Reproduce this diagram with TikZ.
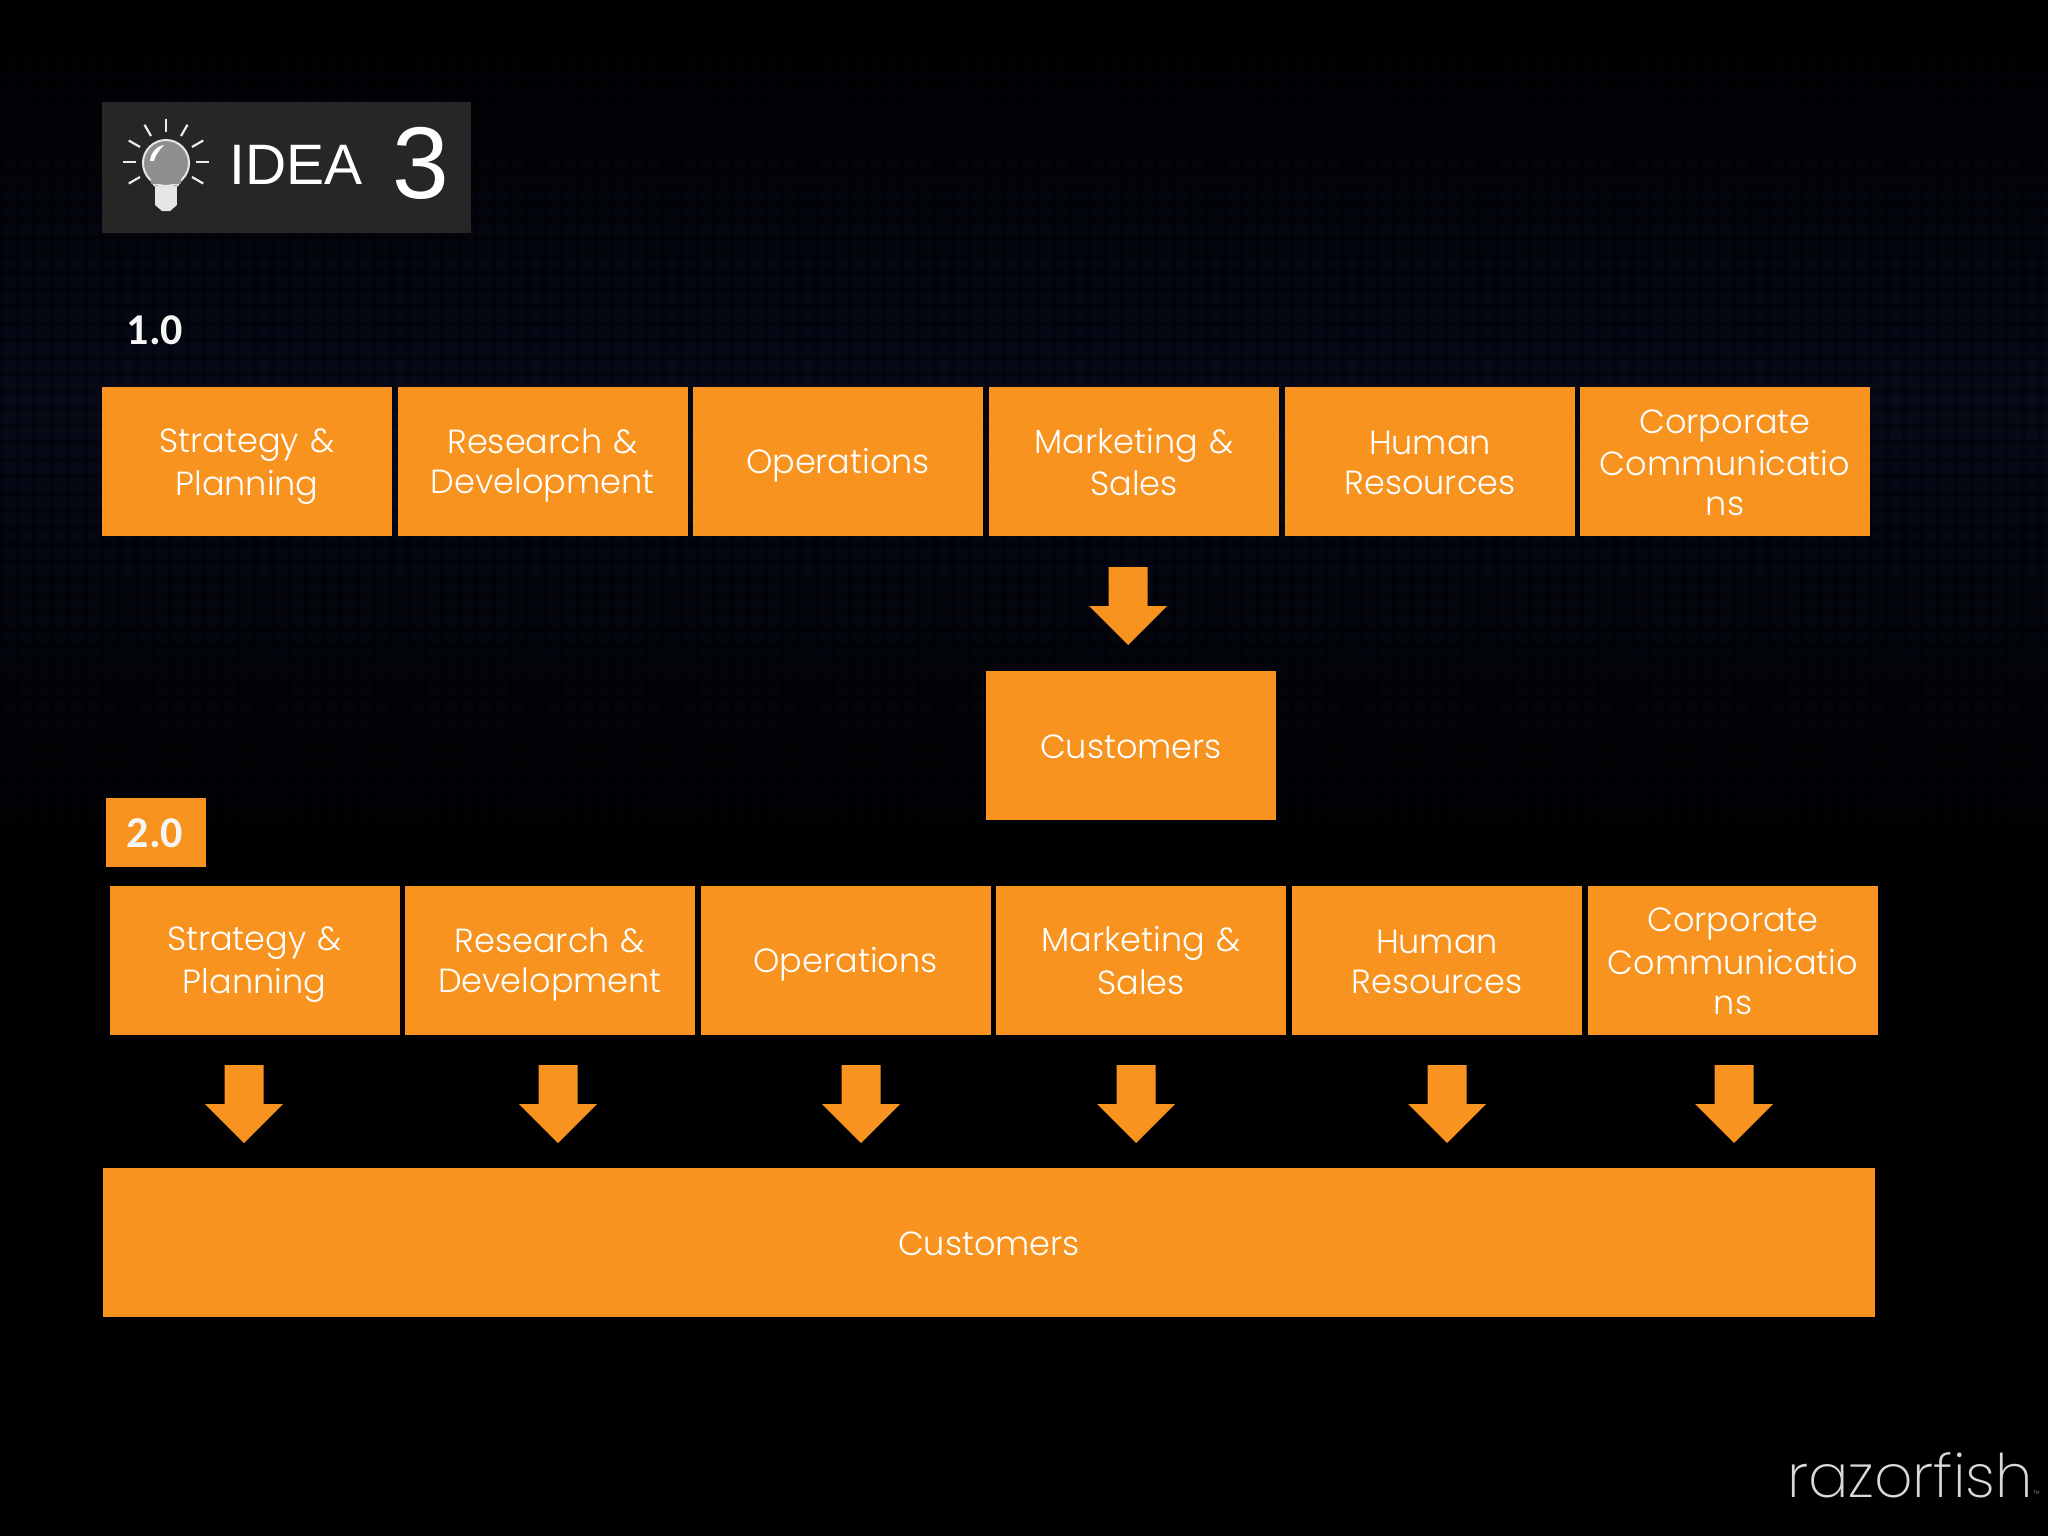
\documentclass[tikz,border=0pt]{standalone}
\usepackage{fontspec}
\setmainfont{Poppins}[UprightFont=* Light,BoldFont=* Medium]
\newfontfamily\headfont{Liberation Sans}
\newfontfamily\verfont{Carlito}
\newfontfamily\logofont{Poppins}[UprightFont=* ExtraLight]
\definecolor{orangebox}{HTML}{F7931E}
\definecolor{badge}{HTML}{262627}
\definecolor{navy}{HTML}{060A18}
\definecolor{bulbgrey}{HTML}{8F8F8F}
\definecolor{bulbwhite}{HTML}{E6E6E6}
\tikzset{
  x=1pt,y=-1pt,
  unit/.style={fill=orangebox,minimum width=290pt,minimum height=149pt,inner sep=0pt,
    text=white,align=center,text width=270pt,font=\fontsize{33.5}{40}\selectfont},
  flowarrow/.style={fill=orangebox},
  ray/.style={draw=white!92!black,line width=2.2pt}
}
\newcommand{\ls}{\rule[-7pt]{0pt}{40pt}}
\newcommand{\flowdown}[1]{\fill[flowarrow] (#1) ++(-19.5,-78) -- ++(39,0) -- ++(0,39) -- ++(19.5,0) -- ++(-39,39) -- ++(-39,-39) -- ++(19.5,0) -- cycle;}
\begin{document}
\begin{tikzpicture}
\useasboundingbox (0,0) rectangle (2048,1536);
\shade[top color=black,bottom color=navy] (0,0) rectangle (2048,400);
\shade[top color=navy,bottom color=black] (0,400) rectangle (2048,900);
\fill[black] (0,900) rectangle (2048,1536);
\foreach \gx in {0,17,...,2048}
  \draw[black,opacity=.3,line width=5pt] (\gx,0) -- (\gx,900);
\foreach \gy in {0,17,...,900}
  \draw[black,opacity=.3,line width=5pt] (0,\gy) -- (2048,\gy);
% badge
\fill[badge] (102,102) rectangle (471,233);
\foreach \a in {-90,-60,-120,-30,-150,0,180,30,150}
  \draw[ray] (166,162) ++(\a:30) -- ++(\a:13);
\fill[bulbwhite] (155,185) rectangle (177,205);
\fill[bulbwhite] (155,205) -- (177,205) -- (170,211) -- (162,211) -- cycle;
\fill[bulbgrey] (149,177) -- (183,177) -- (177,186) -- (155,186) -- cycle;
\draw[bulbwhite,line width=2pt] (149,177) -- (155,186) (183,177) -- (177,186);
\filldraw[fill=bulbgrey,draw=bulbwhite,line width=2pt] (166,163) circle (23);
\fill[bulbgrey] (151,175) rectangle (181,184);
\fill[white] (150,161) .. controls (151,152) and (157,146) .. (164,145) .. controls (160,150) and (156,153) .. (154,161) -- cycle;
\node[font=\headfont\fontsize{57}{57}\selectfont,text=white,inner sep=0pt] (idea) at (296,165) {IDEA};
\node[font=\headfont\fontsize{102}{102}\selectfont,text=white,inner sep=0pt] (three) at (421,163) {3};
\node[font=\verfont\bfseries\fontsize{44}{44}\selectfont,text=white!96!black,inner sep=0pt] (v1) at (155,330) {1.0};
\fill[orangebox] (106,798) rectangle (206,867);
\node[font=\verfont\bfseries\fontsize{44}{44}\selectfont,text=white!96!black,inner sep=0pt] (v2) at (155,833) {2.0};
% row 1
\node[unit] (a1) at (247,461.5) {\ls Strategy \&\\\ls Planning};
\node[unit] (a2) at (542.5,461.5) {\ls Research \&\\\ls Development};
\node[unit] (a3) at (838,461.5) {\ls Operations};
\node[unit] (a4) at (1134,461.5) {\ls Marketing \&\\\ls Sales};
\node[unit] (a5) at (1430,461.5) {\ls Human\\\ls Resources};
\node[unit,text width=285pt] (a6) at (1725,461.5) {\ls Corporate\\\ls Communicatio\\\ls ns};
\node[unit] (c1) at (1131,745) {\ls Customers};
% row 2
\node[unit] (b1) at (254.5,960) {\ls Strategy \&\\\ls Planning};
\node[unit] (b2) at (550,960) {\ls Research \&\\\ls Development};
\node[unit] (b3) at (845.5,960) {\ls Operations};
\node[unit] (b4) at (1141,960) {\ls Marketing \&\\\ls Sales};
\node[unit] (b5) at (1437,960) {\ls Human\\\ls Resources};
\node[unit,text width=285pt] (b6) at (1733,960) {\ls Corporate\\\ls Communicatio\\\ls ns};
\node[unit,minimum width=1772pt,text width=1700pt] (c2) at (989,1242.5) {\ls Customers};
% arrows
\coordinate (t0) at (1128,645);
\flowdown{t0}
\foreach \n/\px in {1/244,2/558,3/861,4/1136,5/1447,6/1734}{
  \coordinate (t\n) at (\px,1143);
  \flowdown{t\n}
}
% logo
\node[font=\logofont\fontsize{60}{60}\selectfont,text=white!85!black,inner sep=0pt,anchor=base west] (logo) at (1787,1497) {razorfish};
\node[font=\logofont\fontsize{9}{9}\selectfont,text=white!60!black,inner sep=0pt,anchor=base west] (tm) at (2033,1497) {™};
\end{tikzpicture}
\end{document}
